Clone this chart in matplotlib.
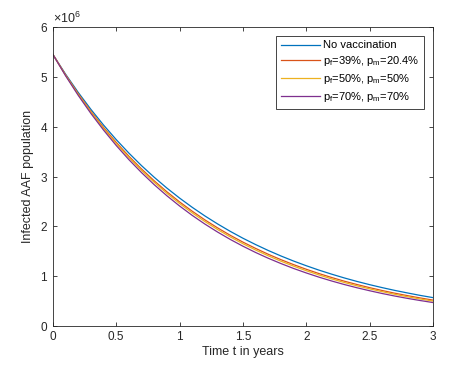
import matplotlib
matplotlib.use("Agg")
import matplotlib.pyplot as plt
import numpy as np
from matplotlib.ticker import ScalarFormatter

plt.rcParams['font.family'] = ['Liberation Sans', 'DejaVu Sans']
plt.rcParams['mathtext.default'] = 'regular'

t = [round(0.1 * i, 1) for i in range(31)]
no_vacc = [5.45, 5.055, 4.688, 4.348, 4.033, 3.741, 3.470, 3.218, 2.985, 2.768, 2.568,
           2.382, 2.209, 2.049, 1.900, 1.762, 1.635, 1.516, 1.406, 1.304, 1.210,
           1.122, 1.041, 0.965, 0.895, 0.830, 0.770, 0.714, 0.663, 0.614, 0.570]
p39_204 = [5.45, 5.040, 4.660, 4.309, 3.985, 3.685, 3.407, 3.151, 2.914, 2.694, 2.491,
           2.304, 2.130, 1.970, 1.821, 1.684, 1.558, 1.440, 1.332, 1.232, 1.139,
           1.053, 0.974, 0.900, 0.833, 0.770, 0.712, 0.658, 0.609, 0.563, 0.520]
p50_50 = [5.45, 5.033, 4.648, 4.293, 3.964, 3.661, 3.381, 3.122, 2.884, 2.663, 2.459,
          2.271, 2.097, 1.937, 1.789, 1.652, 1.526, 1.409, 1.301, 1.202, 1.110,
          1.025, 0.946, 0.874, 0.807, 0.746, 0.689, 0.636, 0.587, 0.542, 0.501]
p70_70 = [5.45, 5.023, 4.629, 4.266, 3.932, 3.623, 3.339, 3.078, 2.836, 2.614, 2.409,
          2.220, 2.046, 1.886, 1.738, 1.602, 1.476, 1.360, 1.254, 1.155, 1.065,
          0.981, 0.904, 0.833, 0.768, 0.708, 0.652, 0.601, 0.554, 0.511, 0.471]

labels = ['No vaccination', r'p$_f$=39%, p$_m$=20.4%', r'p$_f$=50%, p$_m$=50%', r'p$_f$=70%, p$_m$=70%']
colors = ['#0072BD', '#D95319', '#EDB120', '#7E2F8E']
series = [no_vacc, p39_204, p50_50, p70_70]

fig = plt.figure(figsize=(4.6, 3.76), dpi=100)
ax = fig.add_axes([0.115, 0.133, 0.826, 0.795])
for s, c, l in zip(series, colors, labels):
    ax.plot(t, np.array(s) * 1e6, color=c, lw=0.9, label=l)

ax.set_xlim(0, 3)
ax.set_ylim(0, 6e6)
ax.set_xticks([0, 0.5, 1, 1.5, 2, 2.5, 3])
ax.set_xticklabels(['0', '0.5', '1', '1.5', '2', '2.5', '3'])
ax.set_yticks([0, 1e6, 2e6, 3e6, 4e6, 5e6, 6e6])
fmt = ScalarFormatter(useMathText=True)
fmt.set_powerlimits((0, 0))
ax.yaxis.set_major_formatter(fmt)
ax.yaxis.get_offset_text().set_fontsize(9)
ax.tick_params(direction='in', top=True, right=True, labelsize=8.5, length=3, width=0.6, colors='#262626')
for sp in ax.spines.values():
    sp.set_linewidth(0.6)
    sp.set_color('#262626')
ax.set_xlabel('Time t in years', fontsize=9, color='#262626', labelpad=2)
ax.set_ylabel('Infected AAF population', fontsize=9, color='#262626', labelpad=4)

leg = ax.legend(loc='upper right', fontsize=8, fancybox=False, framealpha=1,
                edgecolor='#262626', handlelength=3.5, borderaxespad=0.8,
                labelspacing=0.35, handletextpad=0.3, borderpad=0.4)
leg.get_frame().set_linewidth(0.6)

fig.savefig('out.png', dpi=100)
